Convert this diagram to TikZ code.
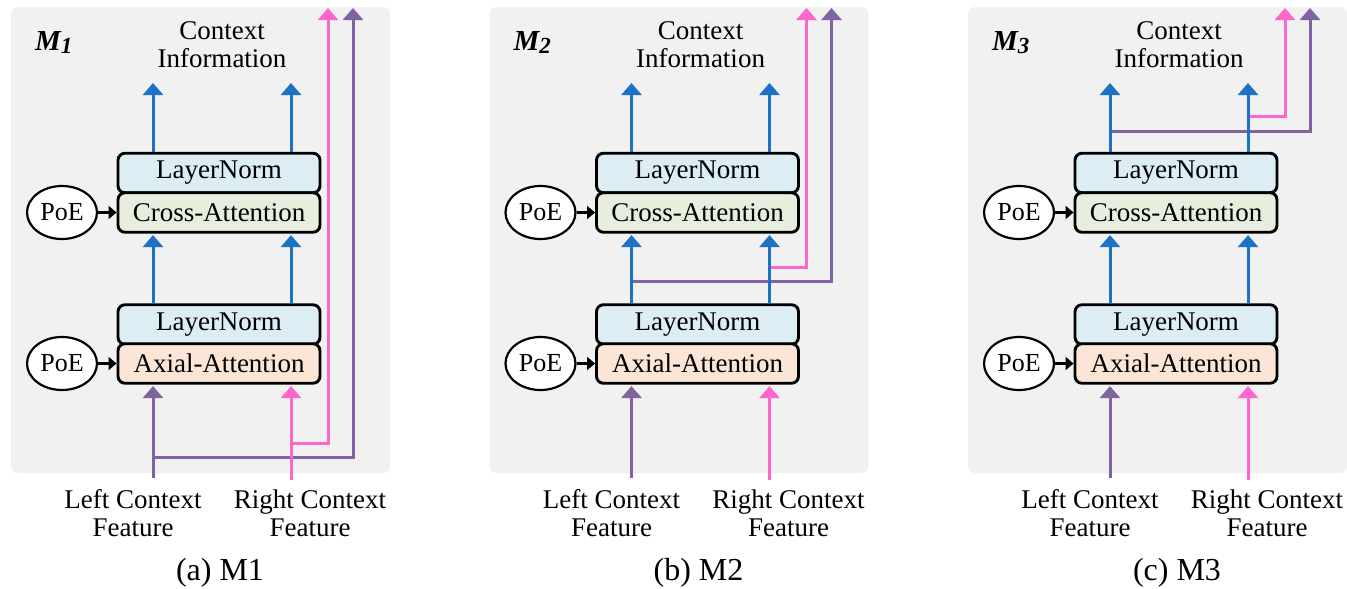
\documentclass[tikz,border=0pt]{standalone}
\usepackage{fontspec}
\setmainfont{Liberation Serif}
\usetikzlibrary{arrows.meta,shapes.geometric}
\pgfdeclarelayer{background}
\pgfsetlayers{background,main}

\definecolor{panelbg}{RGB}{241,241,241}
\definecolor{lncol}{RGB}{220,237,244}
\definecolor{crcol}{RGB}{231,238,222}
\definecolor{axcol}{RGB}{251,229,214}
\definecolor{flowblue}{RGB}{28,114,198}
\definecolor{flowpink}{RGB}{255,102,204}
\definecolor{flowpurple}{RGB}{128,100,162}

\begin{document}
\begin{tikzpicture}[x=1pt,y=-1pt,
  block/.style={draw=black, line width=2.9pt, rounded corners=7pt,
    minimum width=202pt, minimum height=39.5pt, inner sep=0pt,
    font=\fontsize{27}{28}\selectfont},
  poe/.style={draw=black, line width=2.2pt, ellipse, fill=white,
    minimum width=70pt, minimum height=53pt, inner sep=0pt,
    font=\fontsize{26}{26}\selectfont},
  label/.style={align=center, inner sep=0pt, font=\fontsize{27}{28}\selectfont},
  flow/.style={line width=3pt, -{Triangle[width=20pt,length=12pt]}},
  bluearrow/.style={flow, draw=flowblue},
  pinkarrow/.style={flow, draw=flowpink},
  purplearrow/.style={flow, draw=flowpurple},
  poearrow/.style={line width=2.8pt, -{Triangle[width=13pt,length=8pt]}},
]
\useasboundingbox (0,0) rectangle (1347,589);

% skip paths that carry the two context features to the output
\coordinate (brPu1) at (153,457);  \coordinate (pu1) at (353,8);
\coordinate (brPk1) at (291,443);  \coordinate (pk1) at (328,8);
\coordinate (brPu2) at (631.5,281); \coordinate (pu2) at (831.5,8);
\coordinate (brPk2) at (769.5,267); \coordinate (pk2) at (806.5,8);
\coordinate (brPu3) at (1110,131); \coordinate (pu3) at (1310,8);
\coordinate (brPk3) at (1248,116); \coordinate (pk3) at (1285,8);
\foreach \p in {1,2,3} {
  \draw[purplearrow] (brPu\p) -| (pu\p);
  \draw[pinkarrow] (brPk\p) -| (pk\p);
}

\foreach \p/\cap in {1/a,2/b,3/c} {
\begin{scope}[xshift={(\p-1)*478.5pt}]
  \begin{pgfonlayer}{background}
    \fill[panelbg, rounded corners=7pt] (11,7) rectangle (390,473);
  \end{pgfonlayer}

  \node[anchor=base west, inner sep=0pt, font=\fontsize{29}{29}\selectfont\bfseries\itshape]
    (name\p) at (35,50) {M\raisebox{-3pt}{\fontsize{23}{23}\selectfont\p}};

  \node[label, anchor=north] (ctx\p) at (222,21.5) {Context\\Information};

  \node[block, fill=lncol] (lnT\p) at (219,173) {LayerNorm};
  \node[block, fill=crcol] (cr\p) at (219,212.5) {Cross-Attention};
  \node[block, fill=lncol] (lnB\p) at (219,324.5) {LayerNorm};
  \node[block, fill=axcol] (ax\p) at (219,363.5) {Axial-Attention};

  \node[poe] (poeC\p) at (62,212.5) {PoE};
  \node[poe] (poeA\p) at (62,363.5) {PoE};
  \draw[poearrow] (poeC\p) -- (cr\p.west);
  \draw[poearrow] (poeA\p) -- (ax\p.west);

  \coordinate (xl\p) at (153,0);
  \coordinate (xr\p) at (291,0);
  \coordinate (outL\p) at (153,83);
  \coordinate (outR\p) at (291,83);
  \coordinate (inL\p) at (153,478);
  \coordinate (inR\p) at (291,480);

  \draw[bluearrow] (lnT\p.north -| outL\p) -- (outL\p);
  \draw[bluearrow] (lnT\p.north -| outR\p) -- (outR\p);
  \draw[bluearrow, shorten >=1.4pt] (lnB\p.north -| xl\p) -- (cr\p.south -| xl\p);
  \draw[bluearrow, shorten >=1.4pt] (lnB\p.north -| xr\p) -- (cr\p.south -| xr\p);
  \draw[purplearrow, shorten >=1.4pt] (inL\p) -- (ax\p.south -| inL\p);
  \draw[pinkarrow, shorten >=1.4pt] (inR\p) -- (ax\p.south -| inR\p);

  \node[label, anchor=north] (lf\p) at (133,489.5) {Left Context\\Feature};
  \node[label, anchor=north] (rf\p) at (310,489.5) {Right Context\\Feature};

  \node[anchor=base, inner sep=0pt, font=\fontsize{32}{34}\selectfont]
    (cap\p) at (220,580) {(\cap) M\p};
\end{scope}
}
\end{tikzpicture}
\end{document}
